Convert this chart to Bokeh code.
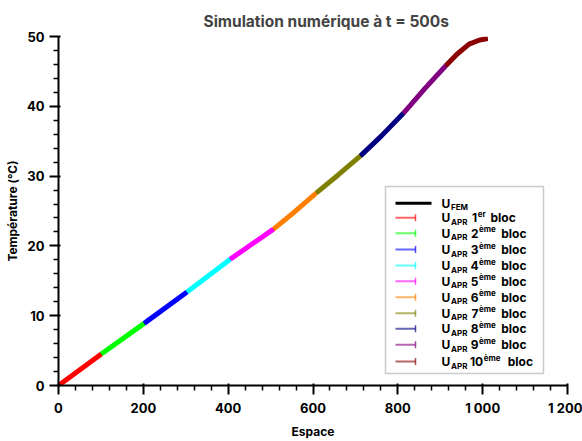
from bokeh.plotting import figure
from bokeh.models import Label, Arrow, TeeHead, BoxAnnotation, FixedTicker, Range1d
from bokeh.embed import file_html
from bokeh.resources import INLINE

# ---- data ----
x_fem = [0, 101, 202, 303, 405, 507, 557, 608, 660, 712, 762, 813, 863, 913, 940, 968, 993, 1012]
y_fem = [0, 4.5, 8.9, 13.4, 18.1, 22.4, 24.9, 27.6, 30.2, 32.9, 35.8, 39.0, 42.5, 45.8, 47.5, 48.9, 49.5, 49.7]
block_edges = [0, 101, 202, 303, 405, 507, 608, 712, 813, 913, 1012]
block_colors = ["#ff0000", "#00ff00", "#0000ff", "#00ffff", "#ff00ff",
                "#ff8000", "#808000", "#000080", "#800080", "#8b0000"]
block_numbers = ["1", "2", "3", "4", "5", "6", "7", "8", "9", "10"]
block_sups = ["er", "ème", "ème", "ème", "ème", "ème", "ème", "ème", "ème", "ème"]
x_ticks = [0, 200, 400, 600, 800, 1000, 1200]
x_tick_labels = ["0", "200", "400", "600", "800", "1 000", "1 200"]
y_ticks = [0, 10, 20, 30, 40, 50]
x_minor = [40, 80, 120, 160, 240, 280, 320, 360, 440, 480, 520, 560, 640, 680, 720, 760,
           840, 880, 920, 960, 1040, 1080, 1120, 1160]
y_minor = [2, 4, 6, 8, 12, 14, 16, 18, 22, 24, 26, 28, 32, 34, 36, 38, 42, 44, 46, 48]

FONT = "Inter"

p = figure(width=582, height=441, output_backend="svg", toolbar_location=None,
           x_range=Range1d(0, 1200), y_range=Range1d(0, 50),
           min_border_left=58, min_border_right=15, min_border_bottom=56, min_border_top=36)
p.outline_line_color = None
p.xgrid.visible = False
p.ygrid.visible = False

p.title.text = "Simulation numérique à t = 500s"
p.title.text_font = FONT
p.title.text_font_size = "15.5px"
p.title.text_font_style = "bold"
p.title.align = "left"
p.title.offset = 145
p.title.standoff = 12

for ax in (p.xaxis[0], p.yaxis[0]):
    ax.axis_line_color = "black"
    ax.axis_line_width = 2
    ax.major_tick_line_color = "black"
    ax.major_tick_line_width = 2
    ax.minor_tick_line_color = "black"
    ax.minor_tick_line_width = 1.5
    ax.major_tick_out = 9
    ax.minor_tick_out = 5
    ax.major_label_text_font = FONT
    ax.major_label_text_font_style = "bold"
    ax.major_label_text_font_size = "13px"
    ax.major_label_text_color = "black"
    ax.axis_label_text_font = FONT
    ax.axis_label_text_font_style = "bold"
    ax.axis_label_text_font_size = "12px"
    ax.axis_label_text_color = "black"
    ax.major_label_standoff = 5

p.xaxis.ticker = FixedTicker(ticks=x_ticks, minor_ticks=x_minor)
p.xaxis.major_label_overrides = {t: l for t, l in zip(x_ticks, x_tick_labels)}
p.yaxis.ticker = FixedTicker(ticks=y_ticks, minor_ticks=y_minor)
p.xaxis.axis_label = "Espace"
p.yaxis.axis_label = "Température (°C)"
p.xaxis.axis_label_standoff = 5
p.yaxis.axis_label_standoff = 4

# FEM reference line underneath
p.line(x_fem, y_fem, line_color="black", line_width=3)

# approximated blocks
for k in range(len(block_colors)):
    lo, hi = block_edges[k], block_edges[k + 1]
    xs = [x for x in x_fem if lo <= x <= hi]
    ys = [y for x, y in zip(x_fem, y_fem) if lo <= x <= hi]
    p.line(xs, ys, line_color=block_colors[k], line_width=5, line_cap="butt")

# ---- manual legend (screen units relative to the frame) ----
box = BoxAnnotation(left=327, right=485, top=199, bottom=12,
                    left_units="screen", right_units="screen",
                    top_units="screen", bottom_units="screen",
                    fill_color="white", fill_alpha=1.0,
                    line_color="#555555", line_width=1.5)
p.add_layout(box)

row_y = [182.3, 167.7, 152.3, 136, 120, 104.3, 88.3, 72.3, 56.7, 40.7, 24]
text_x = 383


def add_text(x, y, t, size, align="left"):
    p.add_layout(Label(x=x, y=y, x_units="screen", y_units="screen", text=t,
                       text_font=FONT, text_font_style="bold",
                       text_font_size=size, text_color="black",
                       text_baseline="middle", text_align=align))


# FEM entry
p.add_layout(Arrow(x_start=337, y_start=row_y[0], x_end=373, y_end=row_y[0],
                   start_units="screen", end_units="screen", start=None, end=None,
                   line_color="black", line_width=3))
add_text(text_x, row_y[0], "U", "12px")
add_text(text_x + 9.5, row_y[0] - 4, "FEM", "8px")

for k in range(len(block_colors)):
    y = row_y[k + 1]
    c = block_colors[k]
    p.add_layout(Arrow(x_start=337, y_start=y, x_end=357, y_end=y,
                       start_units="screen", end_units="screen", start=None,
                       end=TeeHead(size=7, line_color=c, line_width=1.5, line_alpha=0.7),
                       line_color=c, line_width=2, line_alpha=0.6))
    add_text(text_x, y, "U", "12px")
    add_text(text_x + 9.5, y - 4, "APR", "8px")
    if k == 0:
        sx, bx = 418.7, 432
    elif k == 9:
        sx, bx = 424.7, 449.3
    else:
        sx, bx = 420, 442.7
    add_text(sx, y, block_numbers[k], "12px", align="right")
    add_text(sx + 0.5, y + 4, block_sups[k], "8px")
    add_text(bx, y, "bloc", "12px")

open("out.html", "w").write(file_html(p, INLINE))
